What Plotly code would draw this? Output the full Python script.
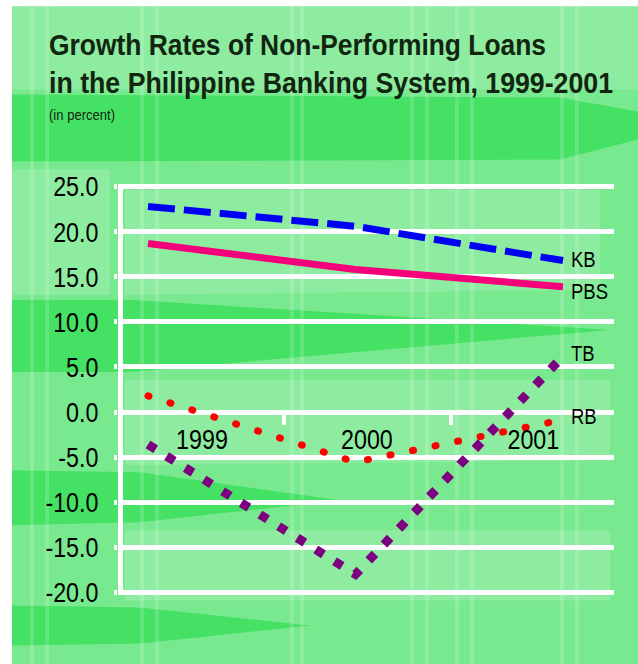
import plotly.graph_objects as go

# Growth rates of non-performing loans (percent), three observation points
periods = [0, 1, 2]
kb = [22.8, 20.6, 16.8]
pbs = [18.7, 15.8, 13.9]
tb = [-3.6, -18.0, 6.2]
rb = [1.8, -5.55, -0.85]

year_labels = ["1999", "2000", "2001"]
year_pos = [0.26, 1.055, 1.857]
year_breaks = [0.654, 1.462]
y_ticks = list(range(-20, 30, 5))
y_text = [f"{v:.1f}" for v in y_ticks]

TITLE1 = "Growth Rates of Non-Performing Loans"
TITLE2 = "in the Philippine Banking System, 1999-2001"
SUBTITLE = "(in percent)"

W, H = 638, 664
L, R, T, B = 118, 24, 183.4, 68.4
PW, PH = W - L - R, H - T - B

FONT = "Liberation Sans, Arial, sans-serif"


def px(x):
    return (x - L) / PW


def py(y):
    return 1 - (y - T) / PH


def poly(points):
    return "M " + " L ".join(f"{px(x):.5f},{py(y):.5f}" for x, y in points) + " Z"


fig = go.Figure()

series = [
    ("KB", kb, "#0000f5", 7, "27px,9px"),
    ("PBS", pbs, "#f5007a", 7, "solid"),
    ("TB", tb, "#7d0080", 9, "9px,13px"),
    ("RB", rb, "#ff0000", 7, "1px,22px"),
]
label_shift = {"KB": 1, "PBS": -5, "TB": 3, "RB": 3}

for name, vals, color, width, dash in series:
    fig.add_trace(go.Scatter(
        x=periods, y=vals, mode="lines", name=name,
        line=dict(color=color, width=width, dash=dash),
        showlegend=False, hoverinfo="skip",
    ))
    fig.add_annotation(
        x=periods[-1], y=vals[-1], text=name, showarrow=False,
        xanchor="left", yanchor="middle", xshift=6, yshift=label_shift[name],
        font=dict(family=FONT, size=22, color="#000000"),
    )

# patterned green backdrop
shapes = [
    dict(type="rect", xref="paper", yref="paper", x0=px(12), x1=px(W), y0=py(7), y1=py(H),
         fillcolor="#79e98f", line=dict(width=0), layer="below"),
]
bands = [
    [(12, 95), (560, 98), (638, 112), (638, 140), (560, 160), (12, 162)],
    [(12, 300), (130, 300), (610, 330), (130, 372), (12, 372)],
    [(12, 470), (140, 472), (340, 500), (140, 522), (12, 525)],
    [(12, 605), (140, 607), (310, 625), (140, 643), (12, 645)],
]
for b in bands:
    shapes.append(dict(type="path", xref="paper", yref="paper", path=poly(b),
                       fillcolor="#34dd55", opacity=0.75, line=dict(width=0), layer="below"))
light = [
    [(12, 7), (638, 7), (638, 90), (12, 90)],
    [(125, 190), (600, 190), (600, 290), (125, 295)],
    [(125, 380), (610, 380), (610, 460), (125, 465)],
    [(125, 530), (610, 530), (610, 600), (125, 600)],
    [(12, 170), (110, 170), (110, 295), (12, 295)],
]
for b in light:
    shapes.append(dict(type="path", xref="paper", yref="paper", path=poly(b),
                       fillcolor="#ffffff", opacity=0.15, line=dict(width=0), layer="below"))
for sx in [30, 45, 140, 155, 290, 300, 410, 425, 455, 470, 560, 575]:
    shapes.append(dict(type="rect", xref="paper", yref="paper", x0=px(sx), x1=px(sx + 4),
                       y0=py(7), y1=py(H), fillcolor="#ffffff", opacity=0.16,
                       line=dict(width=0), layer="below"))
# vertical axis line
shapes.append(dict(type="line", xref="paper", yref="y", x0=px(120.5), x1=px(120.5),
                   y0=-20, y1=25, line=dict(color="#ffffff", width=5), layer="below"))

titles = [
    (TITLE1, 45.5, 30, "bold"),
    (TITLE2, 83, 30, "bold"),
    (SUBTITLE, 115.5, 14, "normal"),
]
for text, ypix, size, weight in titles:
    fig.add_annotation(
        text=text, x=px(47), y=py(ypix), xref="paper", yref="paper",
        xanchor="left", yanchor="middle", showarrow=False,
        font=dict(family=FONT, size=size, weight=weight, color="#112511"),
    )

fig.update_layout(
    width=W, height=H,
    margin=dict(l=L, r=R, t=T, b=B, pad=0),
    paper_bgcolor="#ffffff", plot_bgcolor="rgba(0,0,0,0)",
    shapes=shapes,
    xaxis=dict(
        range=[-0.1446, 2.2458], anchor="free", position=20.4 / 45.8,
        showgrid=False, zeroline=False, showline=False,
        tickmode="array", tickvals=year_pos, ticktext=year_labels, ticks="",
        tickfont=dict(family=FONT, size=28, color="#000000"),
        ticklabelstandoff=8,
        minor=dict(tickmode="array", tickvals=year_breaks, ticks="outside",
                   ticklen=12, tickwidth=4, tickcolor="#ffffff", showgrid=False),
    ),
    yaxis=dict(
        range=[-20.4, 25.4], tickmode="array", tickvals=y_ticks, ticktext=y_text,
        showgrid=True, gridcolor="#ffffff", gridwidth=5,
        zeroline=False, showline=False, ticks="outside", ticklen=3, tickwidth=5,
        tickcolor="#ffffff", tickfont=dict(family=FONT, size=28, color="#000000"),
        ticklabelstandoff=10,
    ),
)

# condensed lettering: squeeze glyphs horizontally, round the RB dots
post = """
var gd = document.getElementById('{plot_id}');
var target = {};
target[%s] = 497; target[%s] = 564; target[%s] = 66;
gd.querySelectorAll('g.annotation-text-g text.annotation-text').forEach(function (t) {
  var bb = t.getBBox();
  var w = t.getComputedTextLength();
  var len = target[t.textContent] || w * 0.84;
  t.setAttribute('textLength', len);
  t.setAttribute('lengthAdjust', 'spacingAndGlyphs');
  t.setAttribute('text-anchor', 'start');
  t.setAttribute('x', bb.x);
  var bg = t.parentNode.querySelector('rect.bg');
  if (bg) { bg.setAttribute('x', bb.x); bg.setAttribute('width', len); }
});
gd.querySelectorAll('g.xtick text, g.ytick text').forEach(function (t) {
  var w = t.getComputedTextLength();
  t.setAttribute('textLength', w * 0.83);
  t.setAttribute('lengthAdjust', 'spacingAndGlyphs');
});
var lines = gd.querySelectorAll('.scatterlayer .trace path.js-line');
if (lines.length >= 4) { lines[3].style.strokeLinecap = 'round'; }
""" % (repr(TITLE1), repr(TITLE2), repr(SUBTITLE))

fig.write_html("out.html", post_script=post)
